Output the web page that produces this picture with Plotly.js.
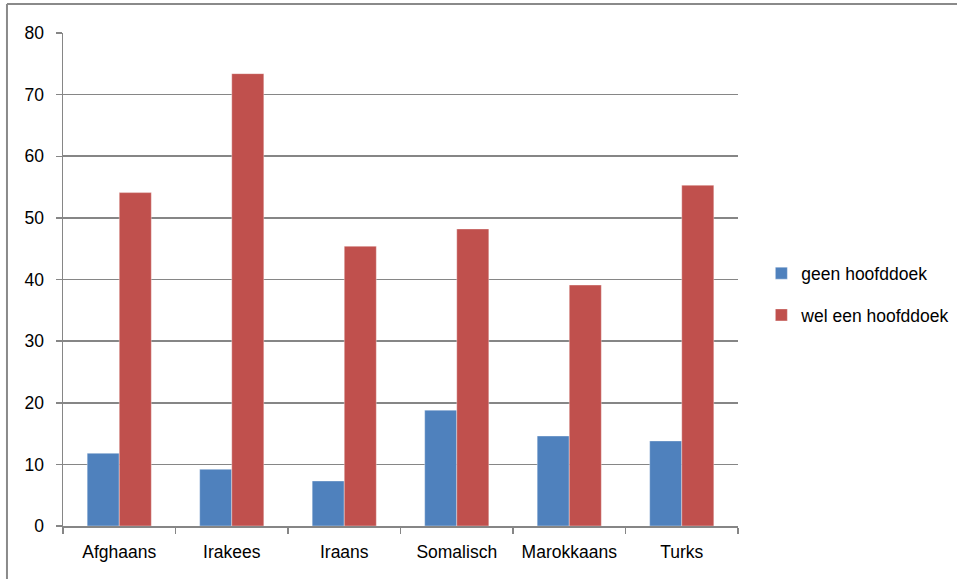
<!DOCTYPE html>
<html>
<head>
<meta charset="utf-8">
<script src="https://cdn.plot.ly/plotly-3.0.1.min.js"></script>
<style>
html,body{margin:0;padding:0;background:#fff;}
#chart{width:957px;height:579px;}
</style>
</head>
<body>
<div id="chart"></div>
<script>
var categories = ["Afghaans", "Irakees", "Iraans", "Somalisch", "Marokkaans", "Turks"];
var seriesNames = ["geen hoofddoek", "wel een hoofddoek"];
var geenHoofddoek = [11.8, 9.2, 7.3, 18.8, 14.6, 13.8];
var welHoofddoek = [54.1, 73.4, 45.4, 48.2, 39.1, 55.3];
var yTicks = [0, 10, 20, 30, 40, 50, 60, 70, 80];

var FONT = '"Liberation Sans", Arial, sans-serif';
var GRID = '#868686';

var traces = [
  {type: 'bar', name: seriesNames[0], x: categories, y: geenHoofddoek, legendgroup: 'a',
   marker: {color: '#4F81BD', line: {color: 'rgba(255,255,255,0.45)', width: 0.8}}},
  {type: 'bar', name: seriesNames[1], x: categories, y: welHoofddoek, legendgroup: 'b',
   marker: {color: '#C0504D', line: {color: 'rgba(255,255,255,0.45)', width: 0.8}}}
];

var layout = {
  width: 957, height: 579,
  margin: {l: 63, r: 219, t: 33, b: 53, autoexpand: false},
  paper_bgcolor: '#fff', plot_bgcolor: '#fff',
  barmode: 'group', bargap: 0.43, bargroupgap: 0,
  font: {family: FONT, size: 17.5, color: '#000'},
  showlegend: true,
  legend: {x: 1.0346, y: 0.47, xanchor: 'left', yanchor: 'middle',
           traceorder: 'grouped', tracegroupgap: 16,
           font: {family: FONT, size: 17.5, color: '#000'},
           itemwidth: 30, bgcolor: 'rgba(0,0,0,0)'},
  xaxis: {type: 'category', showgrid: false, zeroline: false, tickangle: 0,
          showline: true, linecolor: GRID, linewidth: 1.5,
          ticks: 'outside', tickson: 'boundaries', ticklen: 6, tickcolor: GRID, tickwidth: 1.5,
          ticklabelstandoff: 9, tickfont: {family: FONT, size: 17.5}},
  yaxis: {range: [0, 80], tickvals: yTicks, ticktext: yTicks.map(String),
          showgrid: true, gridcolor: GRID, gridwidth: 1.6, zeroline: false,
          showline: true, linecolor: GRID, linewidth: 1.5,
          ticks: 'outside', ticklen: 6, tickcolor: GRID, tickwidth: 1.5,
          ticklabelstandoff: 8, tickfont: {family: FONT, size: 17.5}, fixedrange: true},
  shapes: [
    {type: 'line', xref: 'paper', yref: 'paper', x0: -0.083, x1: -0.083, y0: 1.059, y1: -0.12,
     line: {color: '#8a8a8a', width: 2}},
    {type: 'line', xref: 'paper', yref: 'paper', x0: -0.083, x1: 1.4, y0: 1.059, y1: 1.059,
     line: {color: '#8a8a8a', width: 2}}
  ]
};

Plotly.newPlot('chart', traces, layout, {displayModeBar: false, staticPlot: true});
</script>
</body>
</html>
